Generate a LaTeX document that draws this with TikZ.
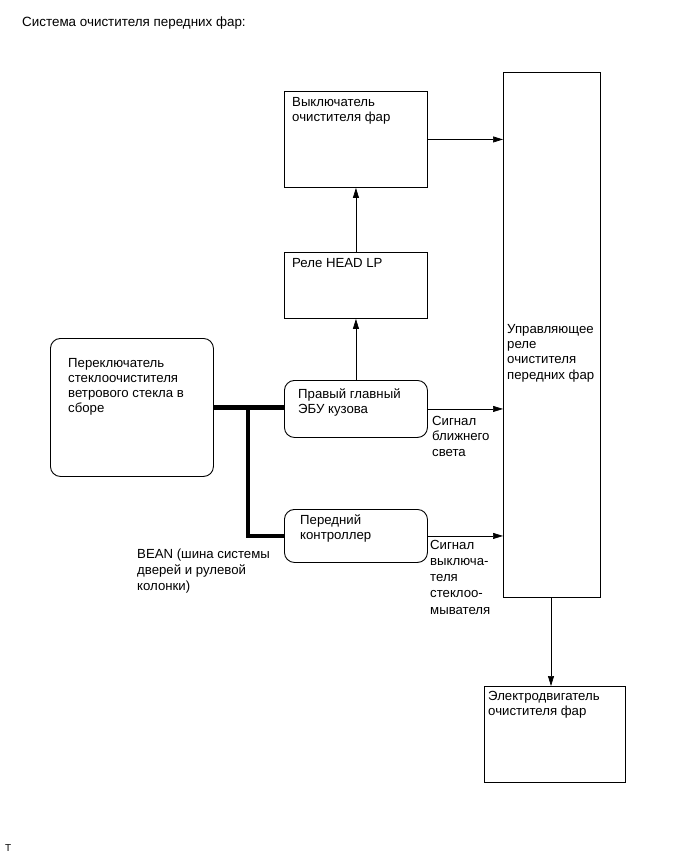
\documentclass[tikz,border=0pt]{standalone}
\usepackage{fontspec}
\setmainfont{Liberation Sans}
\usetikzlibrary{arrows.meta}

\begin{document}
\begin{tikzpicture}[x=1pt,y=-1pt,font={\fontsize{13.2}{15}\selectfont},>={Triangle[length=10pt,width=6pt]},
	box/.style={draw,line width=0.9pt,inner sep=0pt,anchor=north west},
	rbox/.style={box,rounded corners=10pt},
	lbl/.style={inner sep=0pt,anchor=base west,align=left},
	sig/.style={->,line width=0.7pt}]
	%%Khung hình
	\useasboundingbox (0,0) rectangle (692,854);
	\node[lbl,font={\fontsize{13.4}{15}\selectfont}] (title) at (22,26.5) {Система очистителя передних фар:};
	%%Các khối
	\node[box,minimum width=97,minimum height=525] (ctl) at (503,72) {};
	\node[box,minimum width=143,minimum height=96] (sw) at (284,91) {};
	\node[box,minimum width=143,minimum height=66] (hl) at (284,252) {};
	\node[rbox,minimum width=163,minimum height=138] (wsw) at (50,338) {};
	\node[rbox,minimum width=143,minimum height=57] (ecu) at (284,380) {};
	\node[rbox,minimum width=143,minimum height=53] (fc) at (284,509) {};
	\node[box,minimum width=141,minimum height=96] (mot) at (484,686) {};
	%%Chữ trong các khối (điểm neo = dòng cuối)
	\node[lbl] (swt) at (292,121) {Выключатель\\очистителя фар};
	\node[lbl] (hlt) at (292,267) {Реле HEAD LP};
	\node[lbl,font={\fontsize{13.2}{14.7}\selectfont}] (wswt) at (68,412) {Переключатель\\стеклоочистителя\\ветрового стекла в\\сборе};
	\node[lbl] (ecut) at (298,413) {Правый главный\\ЭБУ кузова};
	\node[lbl] (fct) at (300,539) {Передний\\контроллер};
	\node[lbl,font={\fontsize{13.2}{15.3}\selectfont}] (ctlt) at (507,379) {Управляющее\\реле\\очистителя\\передних фар};
	\node[lbl] (mott) at (488,715) {Электродвигатель\\очистителя фар};
	%%Nhãn
	\node[lbl,font={\fontsize{13.2}{15.5}\selectfont}] (sig1) at (432,456) {Сигнал\\ближнего\\света};
	\node[lbl,font={\fontsize{13.2}{16.2}\selectfont}] (sig2) at (430,614) {Сигнал\\выключа-\\теля\\стеклоо-\\мывателя};
	\node[lbl,font={\fontsize{13.2}{16}\selectfont}] (bean) at (137,590) {BEAN (шина системы\\дверей и рулевой\\колонки)};
	\node[lbl,font={\fontsize{10}{12}\selectfont}] (mark) at (5,851) {T};
	%%Mũi tên
	\draw[sig] (sw.east) -- (sw.east -| ctl.west);
	\draw[sig] (hl.north) -- (sw.south);
	\draw[sig] (ecu.north) -- (hl.south);
	\draw[sig] (ecu.east) -- (ecu.east -| ctl.west);
	\draw[sig] (fc.east) -- (fc.east -| ctl.west);
	\draw[sig] (ctl.south -| 551,0) -- (mot.north -| 551,0);
	%%Đường BEAN
	\coordinate (j) at (248,407);
	\draw[line width=4.5pt] (wsw.east) -- (wsw.east -| ecu.west);
	\draw[line width=4.5pt] (j) |- (fc.west);
\end{tikzpicture}
\end{document}
